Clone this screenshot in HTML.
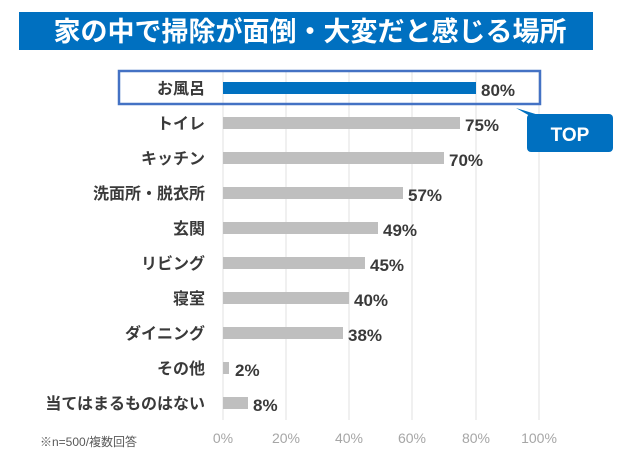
<!DOCTYPE html>
<html><head><meta charset="utf-8"><style>
body{margin:0;width:640px;height:466px;background:#fff;overflow:hidden;font-family:"Liberation Sans","Noto Sans CJK JP",sans-serif;}
</style></head><body>
<svg width="640" height="466" xmlns="http://www.w3.org/2000/svg" font-family="'Liberation Sans','Noto Sans CJK JP',sans-serif">
<rect x="19" y="12" width="574" height="38" fill="#0070c0"/>
<text x="310" y="41" text-anchor="middle" font-size="27" font-weight="bold" fill="#fff">家の中で掃除が面倒・大変だと感じる場所</text>
<g stroke="#e0e0e0" stroke-width="1">
<line x1="223" y1="70" x2="223" y2="420"/><line x1="286" y1="70" x2="286" y2="420"/><line x1="349" y1="70" x2="349" y2="420"/><line x1="412" y1="70" x2="412" y2="420"/><line x1="476" y1="70" x2="476" y2="420"/><line x1="539" y1="70" x2="539" y2="420"/>
</g>
<rect x="119" y="71" width="421" height="33" fill="none" stroke="#4472c4" stroke-width="2.5"/>
<g font-size="16" font-weight="bold" fill="#3a3a3a">
<rect x="223" y="82" width="253" height="12" fill="#0070c0"/>
<text x="205" y="94" text-anchor="end">お風呂</text><text x="481" y="96" font-size="17">80%</text>
<rect x="223" y="117" width="237" height="12" fill="#bfbfbf"/>
<text x="205" y="129" text-anchor="end">トイレ</text><text x="465" y="131" font-size="17">75%</text>
<rect x="223" y="152" width="221" height="12" fill="#bfbfbf"/>
<text x="205" y="164" text-anchor="end">キッチン</text><text x="449" y="166" font-size="17">70%</text>
<rect x="223" y="187" width="180" height="12" fill="#bfbfbf"/>
<text x="205" y="199" text-anchor="end">洗面所・脱衣所</text><text x="408" y="201" font-size="17">57%</text>
<rect x="223" y="222" width="155" height="12" fill="#bfbfbf"/>
<text x="205" y="234" text-anchor="end">玄関</text><text x="383" y="236" font-size="17">49%</text>
<rect x="223" y="257" width="142" height="12" fill="#bfbfbf"/>
<text x="205" y="269" text-anchor="end">リビング</text><text x="370" y="271" font-size="17">45%</text>
<rect x="223" y="292" width="126" height="12" fill="#bfbfbf"/>
<text x="205" y="304" text-anchor="end">寝室</text><text x="354" y="306" font-size="17">40%</text>
<rect x="223" y="327" width="120" height="12" fill="#bfbfbf"/>
<text x="205" y="339" text-anchor="end">ダイニング</text><text x="348" y="341" font-size="17">38%</text>
<rect x="223" y="362" width="6" height="12" fill="#bfbfbf"/>
<text x="205" y="374" text-anchor="end">その他</text><text x="235" y="376" font-size="17">2%</text>
<rect x="223" y="397" width="25" height="12" fill="#bfbfbf"/>
<text x="205" y="409" text-anchor="end">当てはまるものはない</text><text x="253" y="411" font-size="17">8%</text>
</g>
<path d="M516,108 L530,116 L542,116 Z" fill="#0070c0"/>
<rect x="527" y="114" width="86" height="38" rx="4" fill="#0070c0"/>
<text x="570" y="141" text-anchor="middle" font-size="19" font-weight="bold" fill="#fff">TOP</text>
<g font-size="14" fill="#a6a6a6" text-anchor="middle">
<text x="223" y="443">0%</text><text x="286" y="443">20%</text><text x="349" y="443">40%</text><text x="412" y="443">60%</text><text x="476" y="443">80%</text><text x="539" y="443">100%</text>
</g>
<text x="40" y="446" font-size="12" fill="#595959">※n=500/複数回答</text>
</svg>
</body></html>
